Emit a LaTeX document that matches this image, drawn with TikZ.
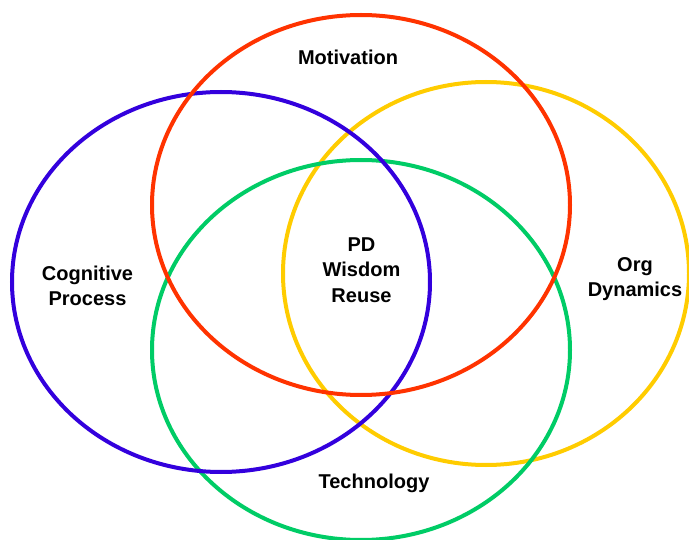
\documentclass[tikz,border=0pt]{standalone}
\usepackage{fontspec}
\setmainfont{Liberation Sans}
\begin{document}
\begin{tikzpicture}[x=1pt,y=-1pt,
  ring/.style={line width=4pt},
  label/.style={font=\bfseries\fontsize{20}{25.5}\selectfont, align=center, inner sep=0pt}]
\definecolor{ringred}{RGB}{255,51,0}
\definecolor{ringblue}{RGB}{51,0,221}
\definecolor{ringyellow}{RGB}{255,204,0}
\definecolor{ringgreen}{RGB}{0,204,102}
\useasboundingbox[fill=white] (0,0) rectangle (689,540);
\begin{scope}
\clip (0,0) rectangle (689,540);
% rings, back to front
\draw[ring, ringyellow] (486,273.5) ellipse [x radius=203, y radius=191.5];
\draw[ring, ringgreen] (361,350) ellipse [x radius=209, y radius=190];
\draw[ring, ringblue] (221,282) ellipse [x radius=209, y radius=190];
\draw[ring, ringred] (361,205) ellipse [x radius=209, y radius=190];
\end{scope}
% labels
\node[label] (motivation) at (348,57) {Motivation};
\node[label] (cognitive) at (87.5,286) {Cognitive\\Process};
\node[label] (org) at (635,279) {Org\\Dynamics};
\node[label] (core) at (361.5,270) {PD\\Wisdom\\Reuse};
\node[label] (technology) at (374,483) {Technology};
\end{tikzpicture}
\end{document}
